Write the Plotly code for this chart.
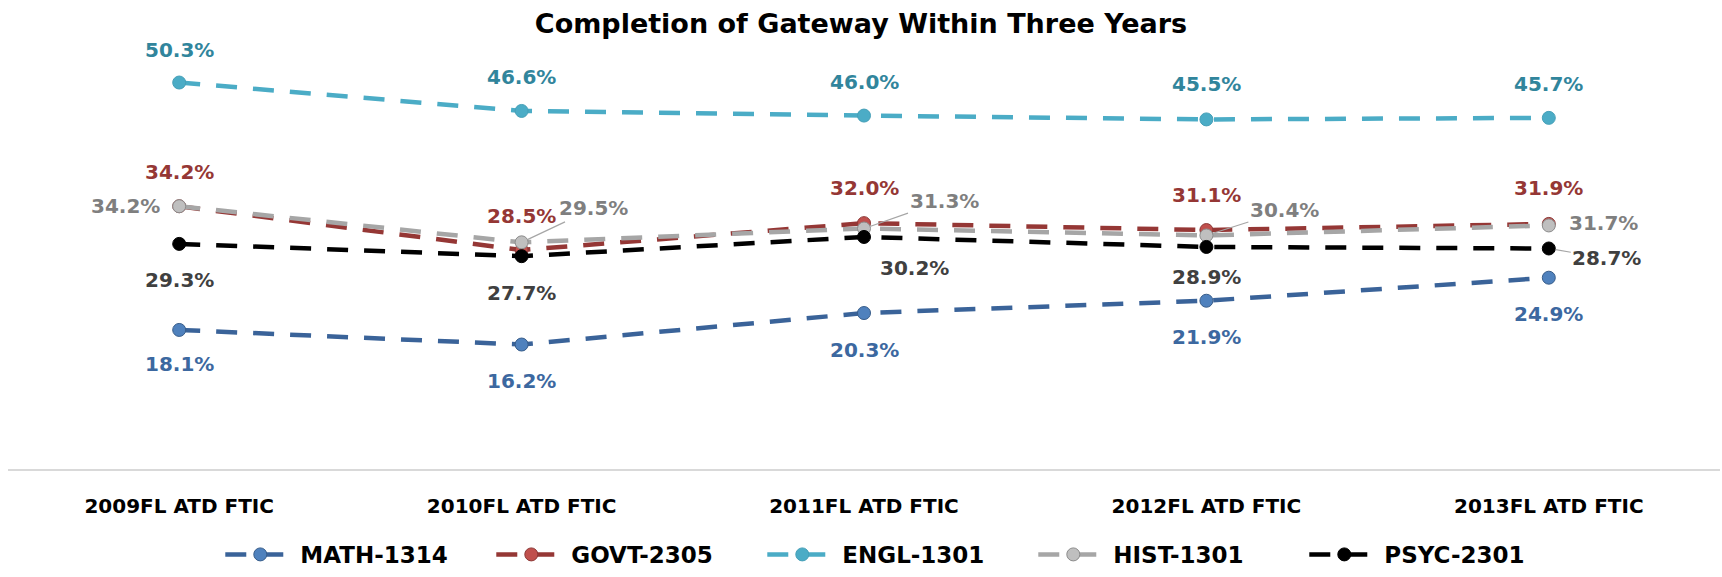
import plotly.graph_objects as go

# chart data
cohorts = ["2009FL ATD FTIC", "2010FL ATD FTIC", "2011FL ATD FTIC", "2012FL ATD FTIC", "2013FL ATD FTIC"]
math_1314 = [0.181, 0.162, 0.203, 0.219, 0.249]
govt_2305 = [0.342, 0.285, 0.320, 0.311, 0.319]
engl_1301 = [0.503, 0.466, 0.460, 0.455, 0.457]
hist_1301 = [0.342, 0.295, 0.313, 0.304, 0.317]
psyc_2301 = [0.293, 0.277, 0.302, 0.289, 0.287]

FONT = "DejaVu Sans"

# name, values, line colour, marker fill, marker border, label colour,
# label offsets in px (dx, dy, leader line)
series = [
    ("MATH-1314", math_1314, "#3A6399", "#4F81BD", "#385D8A", "#3C68A0",
     [(0, 34, False), (0, 36, False), (0, 37, False), (0, 36, False), (0, 36, False)]),
    ("GOVT-2305", govt_2305, "#953735", "#C0504D", "#8C3836", "#953735",
     [(0, -34, False), (0, -34, False), (0, -35, False), (0, -35, False), (0, -36, False)]),
    ("ENGL-1301", engl_1301, "#4BACC6", "#4BACC6", "#46A0B8", "#31859C",
     [(0, -33, False), (0, -34, False), (0, -34, False), (0, -35, False), (0, -34, False)]),
    ("HIST-1301", hist_1301, "#A6A6A6", "#BFBFBF", "#8C8C8C", "#7F7F7F",
     [(-54, 0, False), (72, -34, True), (80, -28, True), (78, -25, True), (55, -2, False)]),
    ("PSYC-2301", psyc_2301, "#000000", "#000000", "#000000", "#404040",
     [(0, 36, False), (0, 37, False), (50, 31, False), (0, 30, False), (58, 10, True)]),
]

fig = go.Figure()
annotations = []

for name, vals, lcol, mfill, mline, tcol, offs in series:
    fig.add_trace(go.Scatter(
        x=cohorts, y=vals, name=name, mode="lines+markers",
        line=dict(color=lcol, width=4.5, dash="21px,16px"),
        marker=dict(size=13, color=mfill, line=dict(color=mline, width=1)),
        hoverinfo="skip"))
    for c, v, (dx, dy, leader) in zip(cohorts, vals, offs):
        a = dict(x=c, y=v, xref="x", yref="y",
                 text=f"{v * 100:.1f}%",
                 font=dict(family=FONT, size=20, color=tcol, weight="bold"))
        if leader:
            a.update(showarrow=True, ax=dx, ay=dy, arrowhead=0,
                     arrowwidth=1.2, arrowcolor="#A6A6A6", standoff=7)
        else:
            a.update(showarrow=False, xshift=dx, yshift=-dy)
        annotations.append(a)

fig.update_layout(
    width=1722, height=577,
    margin=dict(l=8, r=2, t=8, b=108, autoexpand=False),
    paper_bgcolor="white", plot_bgcolor="white",
    title=dict(text="<b>Completion of Gateway Within Three Years</b>",
               x=0.5, xanchor="center", xref="container",
               y=1 - 24 / 577, yanchor="middle", yref="container",
               font=dict(family=FONT, size=27, color="black")),
    showlegend=True,
    legend=dict(orientation="h", x=0.124, xanchor="left",
                y=-0.232, yanchor="bottom", itemwidth=70,
                entrywidth=186, entrywidthmode="pixels",
                font=dict(family=FONT, size=23, color="black", weight="bold")),
    annotations=annotations,
)

fig.update_xaxes(range=[-0.5, 4.5], showgrid=False, showline=True,
                 linecolor="#D9D9D9", linewidth=2,
                 ticks="", ticklabelstandoff=18, zeroline=False,
                 tickfont=dict(family=FONT, size=20, color="black", weight="bold"))
fig.update_yaxes(range=[0, 0.6], visible=False, showgrid=False, zeroline=False)

# drop the page's default body margin so the figure sits at the window corner
fig.write_html("out.html", config={"displayModeBar": False},
               post_script="document.body.style.margin='0';")
